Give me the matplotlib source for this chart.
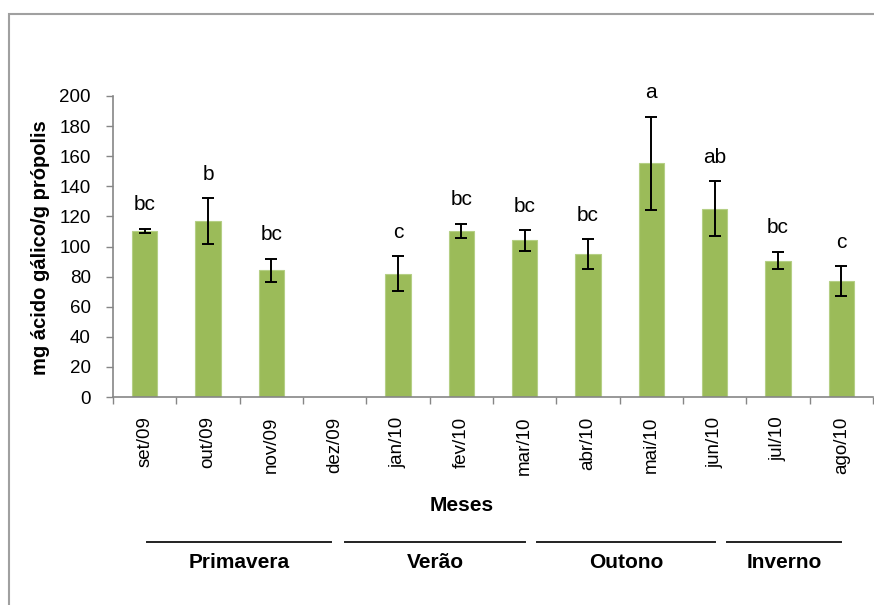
import matplotlib
matplotlib.use("Agg")
import matplotlib.pyplot as plt
from matplotlib.patches import Rectangle
import numpy as np

plt.rcParams['font.family'] = ['Liberation Sans', 'DejaVu Sans']

# monthly phenolic content (mg gallic acid / g propolis), mean and error
months = ['set/09', 'out/09', 'nov/09', 'dez/09', 'jan/10', 'fev/10',
          'mar/10', 'abr/10', 'mai/10', 'jun/10', 'jul/10', 'ago/10']
means = [110.5, 116.7, 84.2, np.nan, 82.0, 110.3,
         104.0, 94.8, 155.3, 125.0, 90.6, 76.9]
errors = [1.2, 15.3, 7.5, np.nan, 11.5, 4.6,
          6.8, 10.0, 31.0, 18.2, 5.8, 10.0]
letters = ['bc', 'b', 'bc', '', 'c', 'bc', 'bc', 'bc', 'a', 'ab', 'bc', 'c']

# seasons: name, first and last position along the month axis
seasons = ['Primavera', 'Verão', 'Outono', 'Inverno']
season_spans = [(0.04, 2.94), (3.17, 6.01), (6.2, 9.0), (9.2, 11.0)]

fig = plt.figure(figsize=(8.74, 6.05), dpi=100)
ax = fig.add_axes([113 / 874, 1 - 397 / 605, 760 / 874, 301 / 605])

# outer chart frame
fig.patches.append(Rectangle((9 / 874, -0.05), 1.0, 1 - 14 / 605 + 0.05,
                             transform=fig.transFigure, fill=False,
                             edgecolor='#A0A0A0', linewidth=1.5))

x = np.arange(len(months))
ax.bar(x, means, width=0.4, color='#9BBB59', edgecolor='#B5CF85',
       linewidth=0.8, zorder=2)
ax.errorbar(x, means, yerr=errors, fmt='none', ecolor='black',
            elinewidth=1.4, capsize=4.3, capthick=1.4, zorder=3)

for xi, m, e, lab in zip(x, means, errors, letters):
    if lab:
        ax.text(xi, m + e + 16, lab, ha='center', va='center', fontsize=15)

ax.set_xlim(-0.5, len(months) - 0.5)
ax.set_ylim(0, 200)
ax.set_yticks(np.arange(0, 201, 20))
ax.tick_params(axis='y', labelsize=13.5, length=5, width=1, color='#868686',
               direction='out', pad=11)

# Excel-style ticks between categories, labels centred on bars
ax.set_xticks(np.arange(-0.5, len(months), 1.0))
ax.set_xticklabels([])
ax.set_xticks(x, minor=True)
ax.set_xticklabels(months, minor=True, rotation=90, fontsize=13.5)
ax.tick_params(axis='x', which='major', length=5, width=1, color='#868686',
               direction='out')
ax.tick_params(axis='x', which='minor', length=0, pad=14)

for side in ('top', 'right'):
    ax.spines[side].set_visible(False)
for side in ('left', 'bottom'):
    ax.spines[side].set_color('#868686')
    ax.spines[side].set_linewidth(1.2)

ax.set_ylabel('mg ácido gálico/g própolis', fontsize=14.5, fontweight='bold')
ax.yaxis.set_label_coords(-0.083, 0.495)

trans = ax.get_xaxis_transform()
ax.text(5.0, -0.359, 'Meses', transform=trans, ha='center', va='center',
        fontsize=15, fontweight='bold')

for name, (a, b) in zip(seasons, season_spans):
    ax.plot([a, b], [-0.482, -0.482], transform=trans, color='#222222',
            linewidth=1.4, clip_on=False)
    ax.text((a + b) / 2, -0.551, name, transform=trans, ha='center',
            va='center', fontsize=15, fontweight='bold')

fig.savefig('out.png', dpi=100)
